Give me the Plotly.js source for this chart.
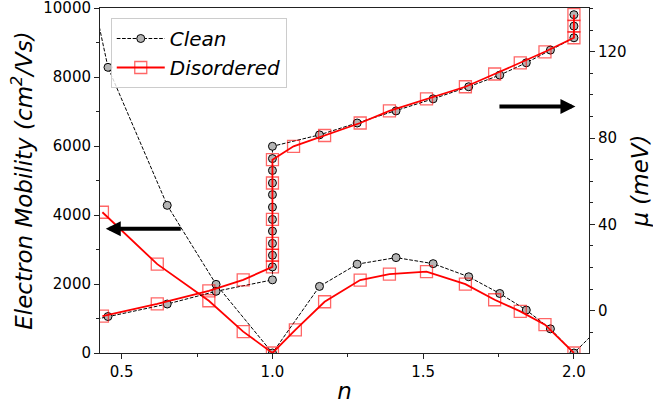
<!DOCTYPE html>
<html>
<head>
<meta charset="utf-8">
<script src="https://cdn.plot.ly/plotly-3.0.1.min.js"></script>
<style>html,body{margin:0;padding:0;background:#fff;}#chart{width:653px;height:404px;}</style>
</head>
<body>
<div id="chart"></div>
<script>
// Electron mobility (left axis), clean sample
const cleanMobN   = [0.40, 0.4545, 0.651, 0.813, 1.0, 1.156, 1.281, 1.410, 1.533, 1.651, 1.754, 1.842, 1.922, 2.0, 2.10];
const cleanMob    = [10500, 8280, 4280, 1990, 0, 1930, 2575, 2765, 2590, 2210, 1725, 1245, 700, 0, 870];
// Electron mobility (left axis), disordered sample
const disMobN     = [0.436, 0.618, 0.789, 0.903, 1.0, 1.076, 1.173, 1.291, 1.388, 1.511, 1.640, 1.737, 1.822, 1.904, 2.0];
const disMob      = [4080, 2575, 1515, 620, 0, 670, 1486, 2113, 2286, 2361, 1997, 1544, 1206, 823, 0];
// Chemical potential mu (right axis), clean sample
const cleanMuN    = [0.40, 0.4545, 0.651, 0.813, 1.0, 1.0, 1.0, 1.0, 1.0, 1.0, 1.0, 1.0, 1.0, 1.0, 1.0, 1.0,
                     1.156, 1.281, 1.410, 1.533, 1.651, 1.754, 1.842, 1.922, 2.0, 2.0, 2.0];
const cleanMu     = [-4.4, -2.7, 3.1, 9.0, 14.3, 20.3, 25.7, 31.2, 36.9, 42.3, 48.0, 53.8, 59.2, 65.0, 70.5, 76.2,
                     81.5, 87.0, 92.6, 98.2, 103.8, 109.2, 114.9, 120.8, 126.5, 131.9, 137.2];
// Chemical potential mu (right axis), disordered sample
const disMuN      = [0.436, 0.618, 0.789, 0.903, 1.0, 1.0, 1.0, 1.0, 1.0, 1.0,
                     1.070, 1.173, 1.291, 1.388, 1.511, 1.640, 1.737, 1.822, 1.904, 2.0, 2.0, 2.0];
const disMu       = [-2.5, 3.2, 9.2, 14.3, 20.3, 25.7, 31.2, 42.3, 59.2, 70.0,
                     76.2, 81.2, 87.0, 92.6, 98.2, 103.8, 109.7, 114.9, 120.0, 126.5, 131.9, 137.2];

const seriesNames = ['Clean', 'Disordered'];
const xTickVals = [0.5, 1.0, 1.5, 2.0];
const yTickVals = [0, 2000, 4000, 6000, 8000, 10000];
const y2TickVals = [0, 40, 80, 120];

const FONT = 'DejaVu Sans, Liberation Sans, sans-serif';
const cleanStyle = {
  mode: 'lines+markers',
  line: {color: 'black', width: 1, dash: '3.7px,1.6px'},
  marker: {symbol: 'circle', size: 8, color: '#b4b4b4', line: {color: 'black', width: 1}}
};
const disStyle = {
  mode: 'lines+markers',
  line: {color: 'red', width: 1.8},
  marker: {symbol: 'square-open', size: 12, color: 'rgba(255,0,0,0.6)', line: {width: 1.3}}
};

const traces = [
  Object.assign({x: cleanMobN, y: cleanMob, name: seriesNames[0], yaxis: 'y', showlegend: true}, cleanStyle),
  Object.assign({x: disMobN, y: disMob, name: seriesNames[1], yaxis: 'y', showlegend: true}, disStyle),
  Object.assign({x: cleanMuN, y: cleanMu, name: seriesNames[0], yaxis: 'y2', showlegend: false}, cleanStyle),
  Object.assign({x: disMuN, y: disMu, name: seriesNames[1], yaxis: 'y2', showlegend: false}, disStyle)
];

const axisCommon = {
  showline: true, linecolor: '#222', linewidth: 1,
  ticks: 'outside', ticklen: 5, tickwidth: 1, tickcolor: '#222',
  showgrid: false, zeroline: false,
  ticklabeloverflow: 'allow',
  tickfont: {family: FONT, size: 15, color: 'black'}
};

const layout = {
  width: 653, height: 404,
  margin: {l: 100, r: 64, t: 8, b: 51, pad: 0},
  paper_bgcolor: 'white', plot_bgcolor: 'white',
  showlegend: true,
  legend: {
    x: 0.022, y: 0.971, xanchor: 'left', yanchor: 'top',
    bgcolor: 'rgba(255,255,255,0.8)', bordercolor: '#cccccc', borderwidth: 1,
    font: {family: FONT, size: 20, color: 'black', style: 'italic'},
    itemwidth: 48,
    tracegroupgap: 2
  },
  xaxis: Object.assign({}, axisCommon, {
    range: [0.428, 2.05], mirror: true,
    tickvals: xTickVals, tickformat: '.1f',
    minor: {dtick: 0.25, tick0: 0, ticks: 'outside', ticklen: 3, tickcolor: '#222'},
    title: {text: 'n', font: {family: FONT, size: 23, color: 'black', style: 'italic'}, standoff: 4}
  }),
  yaxis: Object.assign({}, axisCommon, {
    range: [0, 10000],
    tickvals: yTickVals, tickformat: 'd',
    minor: {dtick: 1000, tick0: 0, ticks: 'outside', ticklen: 3, tickcolor: '#222'},
    title: {text: 'Electron Mobility (cm<sup>2</sup>/Vs)', font: {family: FONT, size: 23, color: 'black', style: 'italic'}, standoff: 4}
  }),
  yaxis2: Object.assign({}, axisCommon, {
    overlaying: 'y', side: 'right', anchor: 'x',
    range: [-19.6, 140.3],
    tickvals: y2TickVals,
    minor: {dtick: 10, tick0: 0, ticks: 'outside', ticklen: 3, tickcolor: '#222'},
    title: {text: 'μ (meV)', font: {family: FONT, size: 23, color: 'black', style: 'italic'}, standoff: 6}
  }),
  annotations: [
    {x: 0.447, y: 3600, ax: 0.701, ay: 3600, xref: 'x', yref: 'y', axref: 'x', ayref: 'y',
     showarrow: true, arrowhead: 2, arrowsize: 0.75, arrowwidth: 4, arrowcolor: 'black', text: ''},
    {x: 2.005, y: 7143, ax: 1.748, ay: 7143, xref: 'x', yref: 'y', axref: 'x', ayref: 'y',
     showarrow: true, arrowhead: 2, arrowsize: 0.75, arrowwidth: 4, arrowcolor: 'black', text: ''}
  ]
};

Plotly.newPlot('chart', traces, layout, {displayModeBar: false, staticPlot: true});
</script>
</body>
</html>
